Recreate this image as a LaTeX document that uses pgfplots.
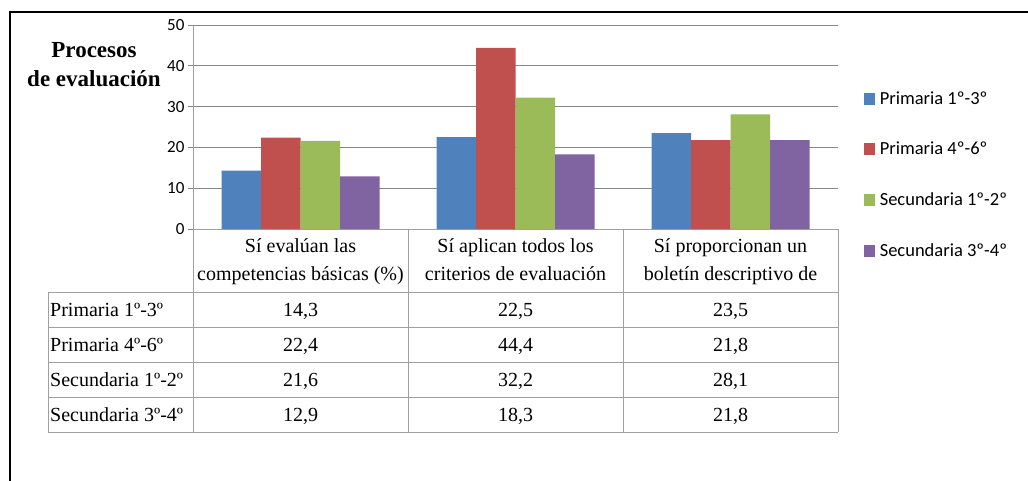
\documentclass[border=0pt]{standalone}
\usepackage{fontspec}
\setmainfont{Liberation Serif}
\newfontfamily\carlito{Carlito}
\usepackage{pgfplots}
\pgfplotsset{compat=1.18}

\definecolor{serA}{HTML}{4F81BD}
\definecolor{serB}{HTML}{C0504D}
\definecolor{serC}{HTML}{9BBB59}
\definecolor{serD}{HTML}{8064A2}
\definecolor{gridgray}{HTML}{868686}
\definecolor{tabgray}{HTML}{A0A0A0}

\begin{document}
\begin{tikzpicture}
\path[use as bounding box] (0pt,0pt) rectangle (1028pt,-481pt);

\begin{axis}[
    at={(193pt,-229pt)}, anchor=south west,
    scale only axis, width=645pt, height=204pt,
    xmin=-0.5, xmax=2.5, xtick=\empty,
    ymin=0, ymax=50, ytick={0,10,20,30,40,50},
    axis lines*=left,
    axis line style={tabgray, line width=1pt},
    ymajorgrids, grid style={gridgray, line width=0.8pt},
    tick align=outside, major tick length=5pt, ytick pos=left,
    tick style={gridgray, line width=0.8pt},
    yticklabel style={font=\carlito\fontsize{17}{17}\selectfont, black},
    /pgf/number format/assume math mode=true,
    ybar=0pt, bar width=39.5pt,
    legend style={at={(1.035,0.695)}, anchor=north west, draw=none, fill=none,
        font=\carlito\fontsize{18.5}{18.5}\selectfont, row sep=32.5pt,
        nodes={inner xsep=5pt}},
    legend cell align=left,
    legend image code/.code={\path[#1, draw=none] (0pt,-6pt) rectangle (11pt,6pt);},
]
\addplot[fill=serA, draw=none] coordinates {(0,14.3) (1,22.5) (2,23.5)};
\addplot[fill=serB, draw=none] coordinates {(0,22.4) (1,44.4) (2,21.8)};
\addplot[fill=serC, draw=none] coordinates {(0,21.6) (1,32.2) (2,28.1)};
\addplot[fill=serD, draw=none] coordinates {(0,12.9) (1,18.3) (2,21.8)};
\legend{Primaria 1º-3º, Primaria 4º-6º, Secundaria 1º-2º, Secundaria 3º-4º}
\end{axis}

\begin{scope}[x=1pt, y=-1pt]
% outer frame
\draw[black, line width=1.5pt] (10,481) -- (10,12) -- (1028,12);
% title
\node[font=\bfseries\fontsize{23}{23}\selectfont, anchor=base] at (94,58) {Procesos};
\node[font=\bfseries\fontsize{23}{23}\selectfont, anchor=base] at (94,87) {de evaluación};
% data table
\draw[tabgray, line width=1pt] (193,229) -- (193,432);
\foreach \xx in {408,623,838} \draw[tabgray, line width=1pt] (\xx,229) -- (\xx,432);
\draw[tabgray, line width=1pt] (48,292) -- (48,432);
\foreach \yy in {292,327,362,397,432} \draw[tabgray, line width=1pt] (48,\yy) -- (838,\yy);
\begin{scope}[every node/.style={font=\fontsize{20}{20}\selectfont, anchor=base, inner sep=0pt}]
\node at (300.5,252) {Sí evalúan las};
\node at (300.5,280) {competencias básicas (\%)};
\node at (515.5,252) {Sí aplican todos los};
\node at (515.5,280) {criterios de evaluación};
\node at (730.5,252) {Sí proporcionan un};
\node at (730.5,280) {boletín descriptivo de};
\node[anchor=base west] at (50,316) {Primaria 1º-3º};
\node[anchor=base west] at (50,351) {Primaria 4º-6º};
\node[anchor=base west] at (50,386) {Secundaria 1º-2º};
\node[anchor=base west] at (50,421) {Secundaria 3º-4º};
\node at (300.5,316) {14,3}; \node at (515.5,316) {22,5}; \node at (730.5,316) {23,5};
\node at (300.5,351) {22,4}; \node at (515.5,351) {44,4}; \node at (730.5,351) {21,8};
\node at (300.5,386) {21,6}; \node at (515.5,386) {32,2}; \node at (730.5,386) {28,1};
\node at (300.5,421) {12,9}; \node at (515.5,421) {18,3}; \node at (730.5,421) {21,8};
\end{scope}
\end{scope}
\end{tikzpicture}
\end{document}
